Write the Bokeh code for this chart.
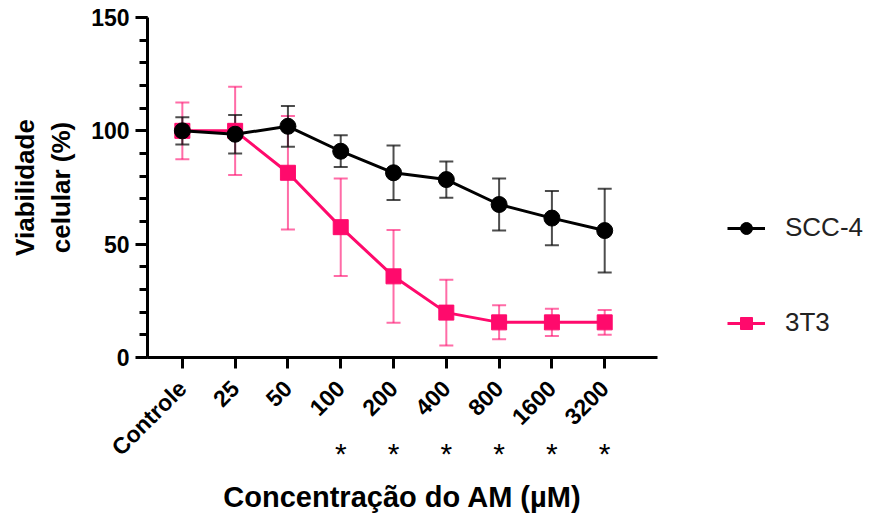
import numpy as np
from bokeh.plotting import figure
from bokeh.models import (ColumnDataSource, FixedTicker, Whisker, TeeHead, Legend,
                          LegendItem, LinearAxis)
from bokeh.embed import file_html
from bokeh.resources import INLINE

categories = ["Controle", "25", "50", "100", "200", "400", "800", "1600", "3200"]
scc4_mean = [100, 98.5, 102, 91, 81.5, 78.5, 67.5, 61.5, 56]
scc4_err = [6, 8.5, 9, 7, 12, 8, 11.5, 12, 18.5]
t3_mean = [100, 100, 81.5, 57.5, 35.8, 19.8, 15.5, 15.5, 15.5]
t3_err = [12.5, 19.5, 25, 21.5, 20.5, 14.5, 7.5, 6, 5.5]
star_idx = [3, 4, 5, 6, 7, 8]

PINK = "#ff0a6c"
FONT = "Liberation Sans"

x = list(range(len(categories)))

p = figure(frame_width=510, frame_height=340, x_range=(-0.66, 9.0), y_range=(0, 150),
           output_backend="svg", toolbar_location=None,
           min_border_left=147, min_border_top=17, min_border_bottom=161, min_border_right=214)
p.outline_line_color = None
p.grid.visible = False
p.background_fill_color = "white"

src_s = ColumnDataSource(dict(x=x, y=scc4_mean,
                              lo=[m - e for m, e in zip(scc4_mean, scc4_err)],
                              hi=[m + e for m, e in zip(scc4_mean, scc4_err)]))
src_t = ColumnDataSource(dict(x=x, y=t3_mean,
                              lo=[m - e for m, e in zip(t3_mean, t3_err)],
                              hi=[m + e for m, e in zip(t3_mean, t3_err)]))

w_t = Whisker(base="x", upper="hi", lower="lo", source=src_t, line_color=PINK, line_alpha=0.6,
              line_width=2,
              upper_head=TeeHead(size=14, line_color=PINK, line_alpha=0.6, line_width=2),
              lower_head=TeeHead(size=14, line_color=PINK, line_alpha=0.6, line_width=2))
w_s = Whisker(base="x", upper="hi", lower="lo", source=src_s, line_color="#111111", line_alpha=0.75,
              line_width=2,
              upper_head=TeeHead(size=14, line_color="#111111", line_alpha=0.75, line_width=2),
              lower_head=TeeHead(size=14, line_color="#111111", line_alpha=0.75, line_width=2))
p.add_layout(w_t)
p.add_layout(w_s)

lt = p.line("x", "y", source=src_t, line_color=PINK, line_width=3)
mt = p.scatter("x", "y", source=src_t, marker="square", size=15, fill_color=PINK, line_color=PINK)
ls = p.line("x", "y", source=src_s, line_color="black", line_width=3)
ms = p.scatter("x", "y", source=src_s, marker="circle", size=16, fill_color="black", line_color="black")

for ax in (p.xaxis[0], p.yaxis[0]):
    ax.axis_line_width = 3
    ax.axis_line_color = "black"
    ax.major_tick_line_width = 3
    ax.major_tick_line_color = "black"
    ax.minor_tick_line_width = 3
    ax.major_tick_in = 0
    ax.minor_tick_in = 0
    ax.major_label_text_font = FONT
    ax.major_label_text_font_style = "bold"
    ax.major_label_text_color = "black"
    ax.axis_label_text_font = FONT
    ax.axis_label_text_font_style = "bold"
    ax.axis_label_text_color = "black"

p.yaxis.ticker = FixedTicker(ticks=[0, 50, 100, 150], minor_ticks=list(range(0, 151, 10)))
p.yaxis.major_tick_out = 12
p.yaxis.minor_tick_out = 8
p.yaxis.major_label_text_font_size = "23px"
p.yaxis.major_label_standoff = 6
p.yaxis.axis_label = "Viabilidade\ncelular (%)"
p.yaxis.axis_label_text_font_size = "26px"
p.yaxis.axis_label_standoff = 12

p.xaxis.ticker = FixedTicker(ticks=x, minor_ticks=[])
p.xaxis.major_label_overrides = {i: c for i, c in zip(x, categories)}
p.xaxis.major_label_orientation = np.pi / 4
p.xaxis.major_tick_out = 11
p.xaxis.minor_tick_out = 0
p.xaxis.major_label_text_font_size = "23px"
p.xaxis.major_label_standoff = 16

# second axis carrying the significance stars and the axis title
star_axis = LinearAxis(ticker=FixedTicker(ticks=star_idx, minor_ticks=[]),
                       major_label_overrides={i: "*" for i in star_idx},
                       axis_line_color=None, major_tick_line_color=None,
                       minor_tick_line_color=None, major_tick_out=0, major_tick_in=0,
                       major_label_standoff=-36,
                       major_label_text_font=FONT, major_label_text_font_size="30px",
                       major_label_text_color="black",
                       axis_label="Concentração do AM (µM)", axis_label_standoff=8,
                       axis_label_text_font=FONT, axis_label_text_font_style="bold",
                       axis_label_text_font_size="29px", axis_label_text_color="black")
p.add_layout(star_axis, "below")

legend = Legend(items=[LegendItem(label="SCC-4", renderers=[ls, ms]),
                       LegendItem(label="3T3", renderers=[lt, mt])],
                location=(70, 19), orientation="vertical",
                glyph_width=38, glyph_height=30, label_height=30, spacing=64,
                label_standoff=20, padding=0, margin=0,
                label_text_font=FONT, label_text_font_size="26px", label_text_color="#222222",
                border_line_color=None, background_fill_alpha=0)
p.add_layout(legend, "right")

open("out.html", "w").write(file_html(p, INLINE))
